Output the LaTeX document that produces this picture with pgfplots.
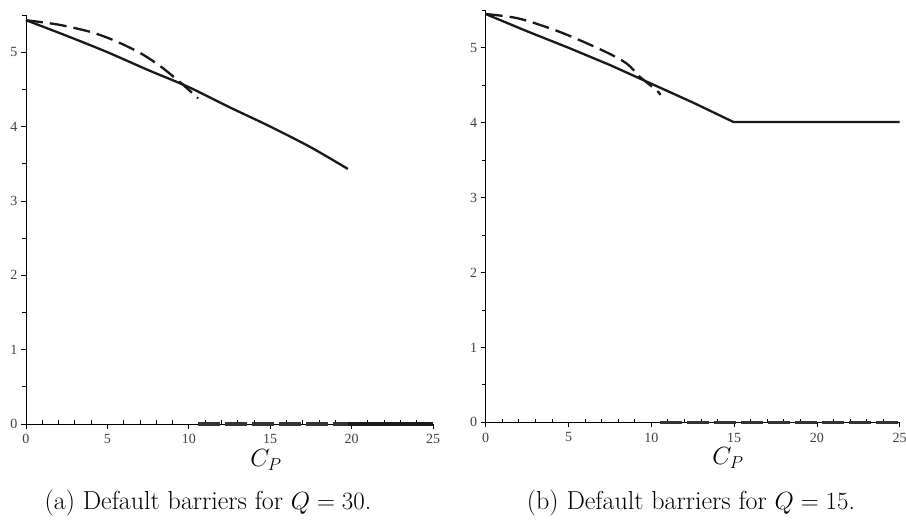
\documentclass[border=0pt]{standalone}
\usepackage{fontspec}
\usepackage{pgfplots}
\pgfplotsset{compat=1.18}
\newfontfamily\tickfont{Liberation Serif}
\pgfplotsset{
  maple/.style={
    scale only axis,
    axis x line*=bottom, axis y line*=left,
    axis line style={line width=0.8pt, -},
    xmin=0, xmax=25, ymin=0, ymax=5.5,
    xtick={0,5,...,25}, ytick={0,1,...,6},
    minor x tick num=4, minor y tick num=1,
    tick align=outside,
    major tick length=5pt, minor tick length=3.5pt,
    tick style={line width=0.8pt, black},
    minor x tick style={yshift=3.5pt},
    ticklabel style={font=\tickfont\fontsize{14}{14}\selectfont, text=black!75},
    xticklabel style={yshift=-2pt},
    /pgf/number format/assume math mode=true,
    clip=false,
  },
  sol/.style={line width=2.3pt, black!90},
  dsh/.style={line width=2.3pt, black!90, dash pattern=on 17pt off 7pt},
  bdsh/.style={line width=3.5pt, black!80, dash pattern=on 22pt off 5pt},
}
\begin{document}
\begin{tikzpicture}
\path[use as bounding box] (0,0) rectangle (906pt,520pt);
\begin{axis}[maple, at={(26pt,96pt)}, anchor=south west, width=407pt, height=409pt]
\addplot[sol, smooth] coordinates {(0,5.43)(2.5,5.22)(5,5.00)(7.5,4.76)(10,4.53)(12.5,4.26)(15,4.00)(17.5,3.72)(19.77,3.43)};
\addplot[dsh, smooth] coordinates {(0,5.43)(2,5.37)(4,5.27)(5.5,5.15)(7,4.99)(8.2,4.82)(9.5,4.59)(10.57,4.38)};
\addplot[bdsh] coordinates {(10.57,0)(25,0)};
\addplot[sol, line width=3.5pt] coordinates {(19.77,0)(25,0)};
\end{axis}
\begin{axis}[maple, at={(485.7pt,97.7pt)}, anchor=south west, width=414pt, height=412pt]
\addplot[sol] coordinates {(0,5.45)(2.5,5.22)(5,5.0)(7.5,4.77)(10,4.52)(12.5,4.27)(14.95,4.01)(25,4.01)};
\addplot[dsh, smooth] coordinates {(0,5.45)(2,5.39)(4.49,5.21)(7.1,4.96)(8.51,4.79)(9.32,4.61)(10.33,4.43)(10.55,4.37)};
\addplot[bdsh] coordinates {(10.55,0)(25,0)};
\end{axis}
\node[anchor=base] at (266pt,53pt) {\fontsize{23}{28}\selectfont $C_P$};
\node[anchor=base] at (728pt,55pt) {\fontsize{23}{28}\selectfont $C_P$};
\node[anchor=base] at (208pt,10pt) {\fontsize{26}{31}\selectfont (a) Default barriers for $Q=30$.};
\node[anchor=base] at (691pt,10pt) {\fontsize{26}{31}\selectfont (b) Default barriers for $Q=15$.};
\end{tikzpicture}
\end{document}
